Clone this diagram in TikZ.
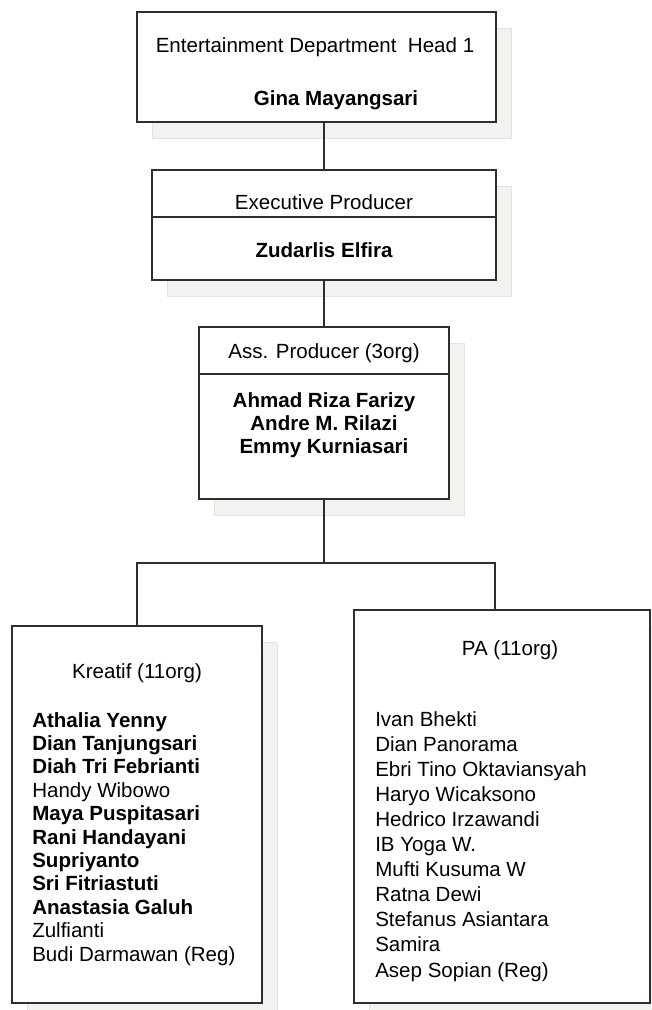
\documentclass[tikz,border=0pt]{standalone}
\usepackage{fontspec}
\setmainfont{Liberation Sans}
\usepackage{tikz}
\usetikzlibrary{shadows}

\definecolor{boxline}{HTML}{2E2E2E}
\definecolor{shadowfill}{HTML}{F3F2EE}
\definecolor{shadowline}{HTML}{E2E2DE}

\begin{document}
\begin{tikzpicture}[x=0.75pt, y=-0.75pt,
  box/.style={draw=boxline, line width=1.5pt, fill=white, inner sep=0pt,
    drop shadow={shadow xshift=11.25pt, shadow yshift=-12pt,
      fill=shadowfill, draw=shadowline, line width=0.75pt, opacity=1}},
  rule/.style={draw=boxline, line width=1.5pt},
  namerm/.style={inner sep=0pt, anchor=base, font=\fontsize{15.4}{18}\selectfont},
  namebf/.style={namerm, font=\fontsize{15.4}{18}\selectfont\bfseries}]
\useasboundingbox (0,0) rectangle (652,1010);
%
\node[box, minimum width=269.25pt, minimum height=82.5pt] (head) at (316.5,67) {};
\node[box, minimum width=258pt, minimum height=82.5pt] (exec) at (324,225) {};
\node[box, minimum width=187.5pt, minimum height=129pt] (assoc) at (324,413) {};
\node[box, minimum width=187.5pt, minimum height=282.75pt] (kreatif) at (137,814.5) {};
\node[box, minimum width=222pt, minimum height=294.75pt] (pa) at (502,806.5) {};
%
\draw[rule] ([yshift=6pt]exec.west) -- ([yshift=6pt]exec.east);
\draw[rule] ([yshift=29.25pt]assoc.west) -- ([yshift=29.25pt]assoc.east);
%
\coordinate (split) at (324,563);
\draw[rule] (head.south -| exec.north) -- (exec.north);
\draw[rule] (exec.south) -- (assoc.north);
\draw[rule] (assoc.south) -- (split);
\draw[rule] (split) -| (kreatif.north);
\draw[rule] (split) -| ([xshift=-5.25pt]pa.north);
%
\node[namerm] (headtitle) at (315,52) {Entertainment Department\ \ Head 1};
\node[namebf] (headname) at (336,105) {Gina Mayangsari};
\node[namerm] (exectitle) at (324,209) {Executive Producer};
\node[namebf] (execname) at (324,257) {Zudarlis Elfira};
\node[namerm] (assoctitle) at (324,358) {Ass. Producer (3org)};
\foreach \who [count=\i] in {Ahmad Riza Farizy, Andre M. Rilazi, Emmy Kurniasari}
  \node[namebf] (assoc\i) at (324,{407+23*(\i-1)}) {\who};
%
\node[namerm] (kreatiftitle) at (137,678) {Kreatif (11org)};
\foreach \who/\sty [count=\i] in {Athalia Yenny/namebf, Dian Tanjungsari/namebf,
    Diah Tri Febrianti/namebf, Handy Wibowo/namerm, Maya Puspitasari/namebf,
    Rani Handayani/namebf, Supriyanto/namebf, Sri Fitriastuti/namebf,
    Anastasia Galuh/namebf, Zulfianti/namerm, Budi Darmawan (Reg)/namerm}
  \node[\sty, anchor=base west] (kreatif\i) at (32,{727+23.4*(\i-1)}) {\who};
%
\node[namerm] (patitle) at (510,655) {PA (11org)};
\foreach \who [count=\i] in {Ivan Bhekti, Dian Panorama, Ebri Tino Oktaviansyah,
    Haryo Wicaksono, Hedrico Irzawandi, IB Yoga W., Mufti Kusuma W, Ratna Dewi,
    Stefanus Asiantara, Samira, Asep Sopian (Reg)}
  \node[namerm, anchor=base west] (pa\i) at (375,{726+25.1*(\i-1)}) {\who};
\end{tikzpicture}
\end{document}
